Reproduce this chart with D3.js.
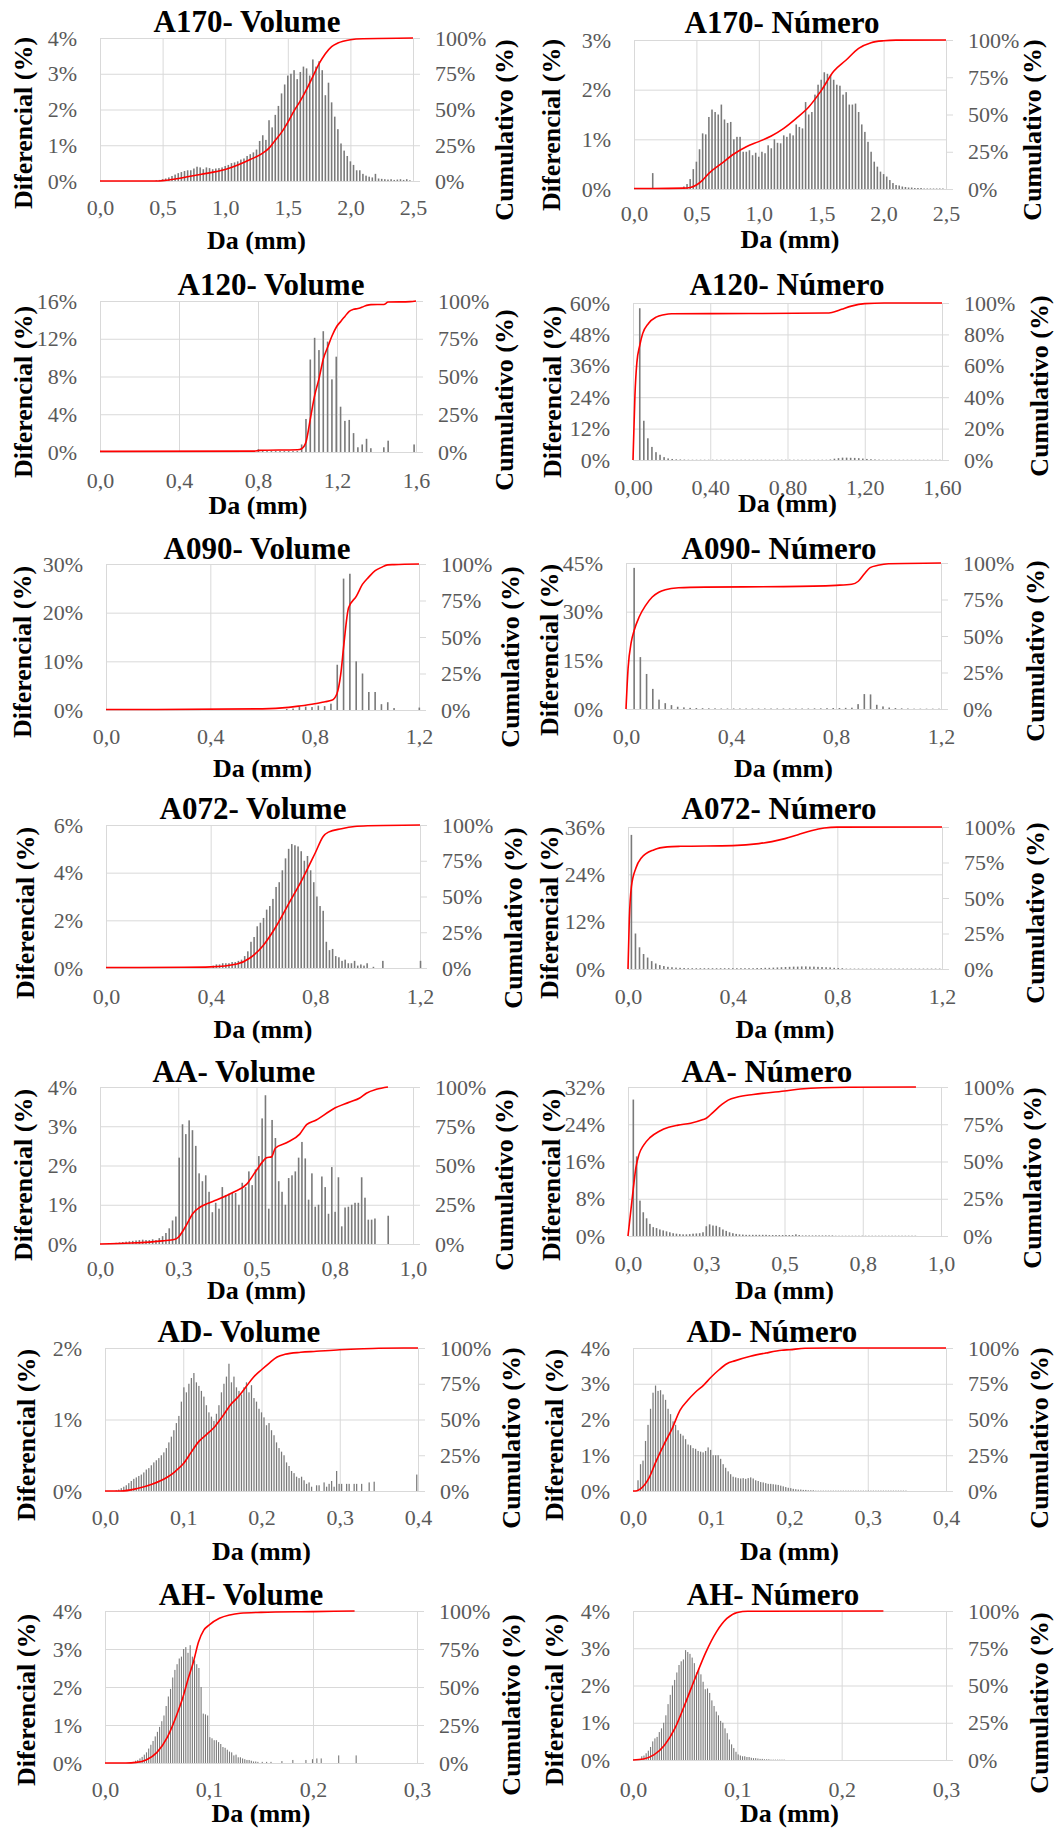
<!DOCTYPE html>
<html><head><meta charset="utf-8">
<script src="https://cdn.jsdelivr.net/npm/d3@7"></script>
<style>
html,body{margin:0;padding:0;background:#fff;}
svg text{font-family:"Liberation Serif","Times New Roman",serif;}
</style></head><body>
<svg id="c" width="1057" height="1832"></svg>
<script>
// ---------- tick labels ----------
const xTicksA170 = [0,0.5,1,1.5,2,2.5];
const xLabelsA170 = ["0,0","0,5","1,0","1,5","2,0","2,5"];
const xTicksA120 = [0,0.4,0.8,1.2,1.6];
const xLabelsA120V = ["0,0","0,4","0,8","1,2","1,6"];
const xLabelsA120N = ["0,00","0,40","0,80","1,20","1,60"];
const xTicks12 = [0,0.4,0.8,1.2];
const xLabels12 = ["0,0","0,4","0,8","1,2"];
const xTicksAA = [0,0.25,0.5,0.75,1];
const xLabelsAA = ["0,0","0,3","0,5","0,8","1,0"];
const xTicksAD = [0,0.1,0.2,0.3,0.4];
const xLabelsAD = ["0,0","0,1","0,2","0,3","0,4"];
const xTicksAH = [0,0.1,0.2,0.3];
const xLabelsAH = ["0,0","0,1","0,2","0,3"];
const cumTicks = [0,25,50,75,100];
const cumTicks20 = [0,20,40,60,80,100];

// ---------- histogram bins: [first bin centre, bin width] (mm) ----------
const a170vBin=[0.45,0.025], a170nBin=[0.15,0.025];
const a120vBin=[0.802,0.0219], a120nBin=[0.035,0.021];
const a090vBin=[0.693,0.0242], a090nBin=[0.031,0.0237];
const a072vBin=[0.41,0.012], a072nBin=[0.013,0.0155];
const aavBin=[0.0516,0.0106], aanBin=[0.017,0.0106];
const advBin=[0.0144,0.0032], adnBin=[0.0064,0.0032];
const ahvBin=[0.0252,0.0021], ahnBin=[0.0084,0.0021];

// ---------- differential (%) ----------
const a170vDiff=[0.02,0.03,0.05,0.07,0.1,0.14,0.18,0.22,0.25,0.28,0.3,0.3,0.35,0.4,0.38,0.33,0.38,0.36,0.33,0.35,0.36,0.38,0.42,0.45,0.5,0.52,0.55,0.6,0.63,0.7,0.75,0.8,0.88,1.12,1.28,1.15,1.7,1.5,1.85,2.1,2.45,2.7,2.95,3.0,3.1,2.85,3.05,3.2,3.15,2.95,3.4,3.2,3.35,3.1,2.4,2.75,2.2,1.8,1.45,1.05,0.85,0.7,0.55,0.45,0.3,0.3,0.2,0.15,0.12,0.1,0.2,0.07,0.06,0.05,0.04,0.05,0.03,0.04,0.05,0.03,0.05,0.02];
const a170nDiff=[0.32,0,0,0,0,0,0,0,0,0,0.05,0.1,0.2,0.4,0.55,0.8,1.12,1.1,1.45,1.6,1.55,1.5,1.7,1.4,1.33,1.35,1.0,1.05,1.05,0.75,0.75,0.78,0.68,0.73,0.65,0.75,0.72,0.88,0.82,1.0,0.93,0.92,1.08,1.05,1.12,1.08,1.3,1.25,1.22,1.75,1.5,1.55,1.9,2.1,2.2,2.35,2.32,2.3,2.2,2.1,2.08,1.9,1.95,1.7,1.7,1.72,1.55,1.3,1.15,0.95,0.75,0.55,0.45,0.35,0.3,0.25,0.18,0.12,0.08,0.07,0.05,0.04,0.03,0.03,0.02,0.02,0.02,0.01,0.01,0.01,0.01,0.01,0.01,0.01];
const a120vDiff=[0.3,0.1,0.1,0.1,0.1,0.1,0.1,0.1,0.1,0.1,0.8,3.5,9.8,12.1,10.8,12.8,11.7,7.7,10.1,4.8,3.3,3.4,2.0,0.5,0.8,1.4,0.4,0,0,0.5,1.2,0,0,0,0,0,0.8];
const a120nDiff=[58,15,8.3,5,3,2,1.1,0.6,0.4,0.25,0.2,0.15,0.1,0.1,0.1,0.1,0.1,0.1,0.1,0.1,0.1,0.1,0.1,0.1,0.1,0.1,0.1,0.1,0.1,0.1,0.1,0.1,0.1,0.1,0.1,0.1,0.1,0.1,0.1,0.1,0.1,0.1,0.1,0.1,0.1,0.1,0.1,0.2,0.5,0.7,0.9,0.9,0.85,0.8,0.7,0.55,0.4,0.3,0.2,0.15,0.1,0.1,0.1,0.1,0.1,0.1,0.1,0.1,0.1,0.1,0.1,0.1,0.1,0.1,0.1];
const a090vDiff=[0.2,0.3,0.8,0.7,0.6,0.9,0.8,1.3,9.3,27,28,10,7.5,3.7,3.7,1.2,1.6,0.4,0,0,0,0.5];
const a090nDiff=[43.5,16,10.8,6.2,2.9,1.8,1.2,0.7,0.5,0.35,0.3,0.25,0.2,0.2,0.15,0.15,0.15,0.15,0.15,0.15,0.15,0.15,0.15,0.15,0.15,0.15,0.15,0.15,0.15,0.2,0.2,0.25,0.3,0.3,0.35,0.4,1.5,4.6,4.5,1.3,0.8,0.45,0.3,0.2,0.15,0.1,0.1,0.1,0.1,0.1];
const a072vDiff=[0.1,0.15,0.15,0.2,0.2,0.2,0.25,0.25,0.3,0.35,0.5,0.7,1.1,1.3,1.75,1.9,2.1,2.45,2.6,2.9,3.4,3.6,4.1,4.6,5.0,5.2,5.15,5.1,4.9,4.5,4.7,4.1,3.6,3.0,2.6,2.4,1.1,0.75,0.8,0.5,0.45,0.3,0.35,0.2,0.2,0.3,0.1,0.15,0.1,0.2,0,0.05,0,0,0.3,0,0,0,0,0,0,0,0,0,0,0,0.3];
const a072nDiff=[34,9,5.5,3.8,2.9,2.0,1.4,1.0,0.75,0.55,0.45,0.35,0.3,0.25,0.2,0.2,0.2,0.2,0.2,0.2,0.2,0.2,0.2,0.2,0.2,0.2,0.2,0.2,0.2,0.2,0.2,0.25,0.25,0.3,0.3,0.35,0.4,0.45,0.5,0.55,0.6,0.6,0.65,0.65,0.6,0.6,0.55,0.5,0.45,0.4,0.3,0.25,0.2,0.1,0.1,0.1,0.1,0.1,0.1,0.1,0.1,0.1,0.1,0.1,0.1,0.1,0.1,0.1,0.1,0.1,0.1,0.1,0.1,0.1,0.1,0.1,0.1];
const aavDiff=[0.03,0.04,0.05,0.06,0.07,0.08,0.09,0.1,0.11,0.1,0.1,0.12,0.1,0.15,0.2,0.28,0.4,0.6,0.7,2.2,3.05,2.8,3.15,2.9,2.5,1.8,1.6,1.75,1.33,0.81,1.05,0.9,1.45,1.25,1.28,1.3,1.3,1.0,1.56,1.45,1.85,1.5,1.9,2.24,3.2,3.79,0.9,3.16,2.7,1.6,1.33,1.0,1.68,1.75,1.85,2.2,2.6,2.18,1.13,1.8,0.95,1.0,1.72,1.45,0.77,1.96,0.82,1.7,0.45,0.93,0.95,1.0,1.05,1.05,1.7,1.18,0.62,0.62,0.65,0,0,0,0.72];
const aanDiff=[29.3,17.1,7.6,5.1,3.8,2.6,1.9,1.7,1.4,1.2,1.0,0.8,0.6,0.5,0.4,0.35,0.35,0.4,0.5,0.55,0.6,0.8,2.1,2.5,2.25,2.2,1.9,1.4,1.1,0.8,0.6,0.45,0.35,0.3,0.25,0.25,0.25,0.25,0.25,0.25,0.25,0.2,0.2,0.2,0.2,0.2,0.2,0.2,0.2,0.35,0.2,0.12,0.12,0.12,0.12,0.12,0.12,0.12,0.12,0.12,0.12,0.06,0.06,0.06,0.06,0.06,0.06,0.06,0.06,0.06,0.06,0.06,0.06,0.06,0.06,0.06,0.06,0.06,0.06,0.06,0.06,0.06,0.06,0.06,0.06,0.06];
const advDiff=[0.01,0.02,0.04,0.06,0.08,0.11,0.14,0.17,0.19,0.21,0.23,0.26,0.3,0.32,0.36,0.4,0.43,0.46,0.5,0.54,0.6,0.68,0.76,0.85,0.95,1.05,1.25,1.45,1.38,1.5,1.58,1.65,1.52,1.47,1.4,1.32,1.2,1.1,1.04,0.98,1.08,1.2,1.38,1.5,1.6,1.78,1.52,1.6,1.45,1.4,1.35,1.45,1.52,1.38,1.48,1.3,1.25,1.15,1.1,1.03,0.92,0.95,0.85,0.78,0.68,0.6,0.55,0.5,0.4,0.35,0.28,0.25,0.2,0.18,0.2,0.15,0.1,0.12,0.06,0,0.08,0.08,0,0.12,0.06,0.1,0.14,0.06,0.28,0.1,0.1,0,0.1,0.1,0,0.1,0.1,0,0.1,0,0,0.12,0,0.13,0,0,0,0,0,0,0,0,0,0,0,0,0,0,0,0,0.23];
const adnDiff=[0.3,0.75,0.85,1.4,1.85,2.3,2.75,2.95,2.8,2.82,2.7,2.55,2.3,2.15,1.95,1.85,1.7,1.6,1.55,1.45,1.3,1.28,1.2,1.18,1.12,1.1,1.08,1.12,1.22,1.15,1.0,1.0,1.0,0.9,0.75,0.65,0.55,0.47,0.4,0.38,0.36,0.35,0.36,0.34,0.36,0.38,0.35,0.3,0.28,0.25,0.24,0.22,0.2,0.2,0.19,0.18,0.17,0.15,0.13,0.11,0.09,0.08,0.06,0.05,0.04,0.04,0.03,0.03,0.02,0.02,0.02,0.01,0.01,0.01,0.01,0.01,0.01,0.01,0.01,0.01,0.01,0.01,0.01,0.01,0.01,0.01,0.01,0.01,0.01,0.01,0.01,0.01,0.01,0.01,0.01,0.01,0.01,0.01,0.01,0.01,0.01,0.01,0.01,0.01,0.01,0.01,0.01,0.01];
const ahvDiff=[0.02,0.03,0.06,0.08,0.12,0.16,0.22,0.28,0.38,0.48,0.58,0.7,0.82,0.95,1.1,1.25,1.5,1.75,1.95,2.25,2.45,2.6,2.75,2.8,3.0,3.05,2.9,3.1,2.8,2.7,2.6,2.5,2.0,1.3,1.28,1.25,0.68,0.65,0.6,0.6,0.55,0.5,0.42,0.4,0.35,0.3,0.28,0.2,0.22,0.15,0.15,0.12,0.1,0.08,0.08,0.06,0.04,0.04,0.03,0,0.03,0,0.03,0,0.03,0,0,0,0,0.05,0,0,0,0,0.08,0,0,0,0,0,0.08,0,0,0.1,0,0.12,0,0.12,0,0,0,0,0,0,0,0.2,0,0,0,0,0,0,0,0.2];
const ahnDiff=[0.1,0.12,0.18,0.25,0.35,0.5,0.58,0.62,0.75,0.85,1.0,1.2,1.5,1.75,2.0,2.15,2.35,2.55,2.65,2.7,2.95,2.9,2.85,2.75,2.6,2.35,2.45,2.3,2.1,1.9,1.92,1.8,1.6,1.45,1.3,1.2,1.05,1.0,0.85,0.72,0.55,0.42,0.32,0.22,0.15,0.12,0.1,0.1,0.08,0.08,0.06,0.05,0.05,0.04,0.03,0.03,0.02,0.02,0.02,0.01,0.01,0.01,0.01,0.01,0.01,0.01];

// ---------- cumulative (%) [Da mm, %] ----------
const a170vCum=[[0,0],[0.45,0],[0.6,1.4],[0.8,4.6],[1.0,8],[1.2,15],[1.3,19.5],[1.35,23],[1.4,28.5],[1.45,34],[1.5,41],[1.55,49],[1.6,56],[1.65,64],[1.7,73],[1.75,82],[1.8,89],[1.85,94],[1.9,96.5],[2.0,98.8],[2.1,99.5],[2.5,100]];
const a170nCum=[[0,0.3],[0.15,0.3],[0.4,0.6],[0.45,1],[0.5,2.7],[0.55,6],[0.6,10.5],[0.7,17],[0.8,23.5],[0.9,28.4],[1.0,31.8],[1.1,35.6],[1.2,40.7],[1.3,47.4],[1.4,55],[1.5,66],[1.6,79],[1.7,86.6],[1.8,94.4],[1.9,98.2],[2.0,99.5],[2.1,99.9],[2.5,100]];
const a120vCum=[[0,0.4],[0.78,0.6],[0.81,1.1],[1.0,1.5],[1.021,2.2],[1.043,6.6],[1.065,22],[1.087,37.5],[1.109,48.6],[1.131,61.8],[1.153,69.5],[1.175,77],[1.197,82.8],[1.219,86.5],[1.24,89.8],[1.262,93.2],[1.284,94.5],[1.306,95],[1.328,96],[1.35,97.1],[1.372,97.6],[1.437,97.7],[1.459,99.3],[1.57,99.6],[1.6,100]];
const a120nCum=[[0,0],[0.01,41],[0.02,62],[0.035,73],[0.05,80.5],[0.08,87],[0.12,91],[0.16,92.5],[0.2,93.2],[0.6,93.3],[1.0,93.6],[1.03,94],[1.08,96],[1.13,98],[1.2,99.6],[1.3,100],[1.6,100]];
const a090vCum=[[0,0.3],[0.6,0.8],[0.7,1.8],[0.74,2.7],[0.8,4.3],[0.84,5.7],[0.865,6.6],[0.885,11],[0.9,24.5],[0.912,45],[0.93,70],[0.96,78],[0.983,86],[1.007,91],[1.032,95.4],[1.056,97.7],[1.08,99.4],[1.104,99.6],[1.2,100]];
const a090nCum=[[0,0],[0.008,28],[0.02,45.8],[0.031,53.8],[0.05,63],[0.075,71],[0.1,76.7],[0.125,80],[0.15,81.7],[0.2,83],[0.3,83.5],[0.6,83.8],[0.8,84.7],[0.86,85.4],[0.885,87.5],[0.91,93],[0.93,96.8],[0.96,98.4],[1.0,99.5],[1.2,100]];
const a072vCum=[[0,0.3],[0.3,0.5],[0.4,0.8],[0.5,2.8],[0.55,7],[0.6,15.6],[0.65,29],[0.7,45.5],[0.75,62],[0.8,80.6],[0.83,92],[0.85,95],[0.9,97.4],[0.95,99],[1.0,99.5],[1.2,100]];
const a072nCum=[[0,0],[0.005,35],[0.013,58],[0.03,71],[0.05,78],[0.1,84],[0.15,86],[0.2,86.4],[0.4,86.9],[0.5,88.3],[0.55,89.7],[0.6,91.8],[0.65,94.6],[0.7,97.4],[0.75,99.3],[0.8,99.9],[1.2,100]];
const aavCum=[[0,0],[0.1,0.6],[0.2,2],[0.24,3],[0.25,4.3],[0.27,10],[0.298,19.8],[0.319,23.4],[0.346,26],[0.372,28],[0.426,33],[0.468,38],[0.5,47],[0.521,52.8],[0.532,55],[0.548,55.5],[0.56,61],[0.596,64.5],[0.638,70],[0.66,76],[0.691,79],[0.745,86],[0.798,90.4],[0.83,93],[0.851,96],[0.883,98.5],[0.92,100]];
const aanCum=[[0,0],[0.017,32],[0.025,45.6],[0.035,54.6],[0.05,61],[0.07,66],[0.1,70.3],[0.13,73],[0.16,74.4],[0.2,75.7],[0.24,78.2],[0.25,79],[0.27,82.7],[0.3,88.3],[0.32,91.2],[0.35,93.3],[0.4,95],[0.5,97.3],[0.55,98.7],[0.7,99.8],[0.92,100]];
const advCum=[[0,0],[0.02,0],[0.04,1.6],[0.06,4.7],[0.08,9.8],[0.09,13.8],[0.1,19],[0.11,27],[0.12,34.7],[0.13,39.6],[0.14,44.8],[0.15,52],[0.16,60],[0.17,65.7],[0.18,72.7],[0.19,79.7],[0.2,84.8],[0.21,89.5],[0.22,93.7],[0.23,95.6],[0.25,97],[0.27,97.7],[0.3,98.8],[0.33,99.5],[0.35,99.8],[0.4,100]];
const adnCum=[[0,0],[0.005,0.2],[0.01,1.6],[0.02,8.6],[0.03,21.4],[0.04,33],[0.05,43.6],[0.06,56.4],[0.07,63.4],[0.08,69.2],[0.09,73.9],[0.1,79.7],[0.11,84.8],[0.12,89],[0.13,91],[0.15,94.2],[0.17,96.5],[0.19,98.4],[0.2,98.8],[0.22,99.8],[0.25,100],[0.4,100]];
const ahvCum=[[0,0],[0.02,0],[0.03,0.4],[0.04,2.2],[0.05,7],[0.06,17],[0.07,33.5],[0.075,43.4],[0.08,55.5],[0.085,66.5],[0.09,79.7],[0.095,87.4],[0.1,90.7],[0.11,95.2],[0.12,97.4],[0.13,98.5],[0.15,99.1],[0.2,99.6],[0.24,100]];
const ahnCum=[[0,0],[0.01,0.7],[0.02,3.4],[0.03,9.7],[0.04,21],[0.05,37.8],[0.06,55.7],[0.07,72.6],[0.08,86],[0.09,95],[0.1,99],[0.11,99.8],[0.24,100]];

// ---------- panel table built from the arrays ----------
const panels=[
 {title:"A170- Volume", xT:xTicksA170,xL:xLabelsA170,yT:[0,1,2,3,4],y2T:cumTicks,bin:a170vBin,diff:a170vDiff,cum:a170vCum},
 {title:"A170- Número", xT:xTicksA170,xL:xLabelsA170,yT:[0,1,2,3],y2T:cumTicks,bin:a170nBin,diff:a170nDiff,cum:a170nCum},
 {title:"A120- Volume", xT:xTicksA120,xL:xLabelsA120V,yT:[0,4,8,12,16],y2T:cumTicks,bin:a120vBin,diff:a120vDiff,cum:a120vCum},
 {title:"A120- Número", xT:xTicksA120,xL:xLabelsA120N,yT:[0,12,24,36,48,60],y2T:cumTicks20,bin:a120nBin,diff:a120nDiff,cum:a120nCum},
 {title:"A090- Volume", xT:xTicks12,xL:xLabels12,yT:[0,10,20,30],y2T:cumTicks,bin:a090vBin,diff:a090vDiff,cum:a090vCum},
 {title:"A090- Número", xT:xTicks12,xL:xLabels12,yT:[0,15,30,45],y2T:cumTicks,bin:a090nBin,diff:a090nDiff,cum:a090nCum},
 {title:"A072- Volume", xT:xTicks12,xL:xLabels12,yT:[0,2,4,6],y2T:cumTicks,bin:a072vBin,diff:a072vDiff,cum:a072vCum},
 {title:"A072- Número", xT:xTicks12,xL:xLabels12,yT:[0,12,24,36],y2T:cumTicks,bin:a072nBin,diff:a072nDiff,cum:a072nCum},
 {title:"AA- Volume", xT:xTicksAA,xL:xLabelsAA,yT:[0,1,2,3,4],y2T:cumTicks,bin:aavBin,diff:aavDiff,cum:aavCum},
 {title:"AA- Número", xT:xTicksAA,xL:xLabelsAA,yT:[0,8,16,24,32],y2T:cumTicks,bin:aanBin,diff:aanDiff,cum:aanCum},
 {title:"AD- Volume", xT:xTicksAD,xL:xLabelsAD,yT:[0,1,2],y2T:cumTicks,bin:advBin,diff:advDiff,cum:advCum},
 {title:"AD- Número", xT:xTicksAD,xL:xLabelsAD,yT:[0,1,2,3,4],y2T:cumTicks,bin:adnBin,diff:adnDiff,cum:adnCum},
 {title:"AH- Volume", xT:xTicksAH,xL:xLabelsAH,yT:[0,1,2,3,4],y2T:cumTicks,bin:ahvBin,diff:ahvDiff,cum:ahvCum},
 {title:"AH- Número", xT:xTicksAH,xL:xLabelsAH,yT:[0,1,2,3,4],y2T:cumTicks,bin:ahnBin,diff:ahnDiff,cum:ahnCum}
];

// ---------- layout (pixels) ----------
const layout=[
 {L:100,R:413,T:38,B:181,tX:247,tY:32,xlY:215,xtY:249,lx:23,ly:123,rx:504,ry:130},
 {L:634,R:946,T:40,B:189,tX:782,tY:33,xlY:221,xtY:248,lx:551,ly:125,rx:1032,ry:130},
 {L:100,R:416,T:301,B:452,tX:271,tY:295,xlY:488,xtY:514,lx:23,ly:392,rx:504,ry:400},
 {L:633,R:942,T:303,B:460,tX:787,tY:295,xlY:495,xtY:512,lx:552,ly:392,rx:1039,ry:386},
 {L:106,R:419,T:564,B:710,tX:257,tY:559,xlY:744,xtY:777,lx:22,ly:652,rx:510,ry:657},
 {L:626,R:941,T:563,B:709,tX:779,tY:559,xlY:744,xtY:777,lx:549,ly:650,rx:1035,ry:651},
 {L:106,R:420,T:825,B:968,tX:253,tY:819,xlY:1004,xtY:1038,lx:25,ly:913,rx:513,ry:918},
 {L:628,R:942,T:827,B:969,tX:779,tY:819,xlY:1004,xtY:1038,lx:549,ly:913,rx:1035,ry:913},
 {L:100,R:413,T:1087,B:1244,tX:234,tY:1082,xlY:1276,xtY:1299,lx:23,ly:1175,rx:504,ry:1180},
 {L:628,R:941,T:1087,B:1236,tX:767,tY:1082,xlY:1271,xtY:1299,lx:551,ly:1175,rx:1032,ry:1178},
 {L:105,R:418,T:1348,B:1491,tX:239,tY:1342,xlY:1525,xtY:1560,lx:26,ly:1435,rx:511,ry:1438},
 {L:633,R:946,T:1348,B:1491,tX:772,tY:1342,xlY:1525,xtY:1560,lx:554,ly:1435,rx:1039,ry:1438},
 {L:105,R:417,T:1611,B:1763,tX:241,tY:1605,xlY:1797,xtY:1822,lx:26,ly:1700,rx:511,ry:1705},
 {L:633,R:946,T:1611,B:1760,tX:773,tY:1605,xlY:1797,xtY:1822,lx:554,ly:1700,rx:1039,ry:1703}
];

const svg=d3.select("#c");
const GRID="#d9d9d9", TICKTXT="#595959";

function drawPanel(p,lay){
  const {L,R,T,B}=lay;
  const x=d3.scaleLinear().domain([0,p.xT[p.xT.length-1]]).range([L,R]);
  const y=d3.scaleLinear().domain([0,p.yT[p.yT.length-1]]).range([B,T]);
  const y2=d3.scaleLinear().domain([0,100]).range([B,T]);
  const g=svg.append("g");

  const gx=g.append("g").attr("transform",`translate(0,${B})`)
    .call(d3.axisBottom(x).tickValues(p.xT).tickFormat((d,i)=>p.xL[i]).tickSize(-(B-T)));
  gx.select(".domain").remove();
  gx.selectAll(".tick line").attr("stroke",GRID).attr("stroke-width",1);
  gx.selectAll(".tick text").attr("y",lay.xlY-B).attr("dy",null).attr("fill",TICKTXT).style("font-size","22px");

  const gy=g.append("g").attr("transform",`translate(${L},0)`)
    .call(d3.axisLeft(y).tickValues(p.yT).tickFormat(d=>d+"%").tickSize(-(R-L)));
  gy.select(".domain").remove();
  gy.selectAll(".tick line").attr("stroke",GRID).attr("stroke-width",1);
  gy.selectAll(".tick text").attr("x",-23).attr("fill",TICKTXT).style("font-size","22px");

  const gy2=g.append("g").attr("transform",`translate(${R},0)`)
    .call(d3.axisRight(y2).tickValues(p.y2T).tickFormat(d=>d+"%").tickSize(7));
  gy2.select(".domain").remove();
  gy2.selectAll(".tick line").attr("stroke",GRID).attr("stroke-width",1);
  gy2.selectAll(".tick text").attr("x",22).attr("fill",TICKTXT).style("font-size","22px");

  const stepPx=x(p.bin[1])-x(0);
  const bw=Math.max(1,Math.min(1.6,stepPx*0.5));
  const bars=p.diff.map((v,i)=>({c:p.bin[0]+i*p.bin[1],v:v})).filter(d=>d.v>0);
  g.append("g").selectAll("rect").data(bars).join("rect")
    .attr("x",d=>x(d.c)-bw/2).attr("width",bw)
    .attr("y",d=>y(d.v)).attr("height",d=>B-y(d.v))
    .attr("fill","#7a7a7a");

  g.append("path").datum(p.cum)
    .attr("d",d3.line().x(d=>x(d[0])).y(d=>y2(d[1])).curve(d3.curveMonotoneX))
    .attr("fill","none").attr("stroke","#ff0000").attr("stroke-width",1.6);

  g.append("text").attr("x",lay.tX).attr("y",lay.tY).attr("text-anchor","middle")
    .style("font-size","31px").style("font-weight","bold").attr("fill","#000").text(p.title);
  g.append("text").attr("x",(L+R)/2).attr("y",lay.xtY).attr("text-anchor","middle")
    .style("font-size","26px").style("font-weight","bold").attr("fill","#000").text("Da (mm)");
  g.append("text").attr("transform",`translate(${lay.lx},${lay.ly}) rotate(-90)`)
    .attr("text-anchor","middle").attr("dominant-baseline","central")
    .style("font-size","26px").style("font-weight","bold").attr("fill","#000").text("Diferencial (%)");
  g.append("text").attr("transform",`translate(${lay.rx},${lay.ry}) rotate(-90)`)
    .attr("text-anchor","middle").attr("dominant-baseline","central")
    .style("font-size","26px").style("font-weight","bold").attr("fill","#000").text("Cumulativo (%)");
}

panels.forEach((p,i)=>drawPanel(p,layout[i]));
</script>
</body></html>
